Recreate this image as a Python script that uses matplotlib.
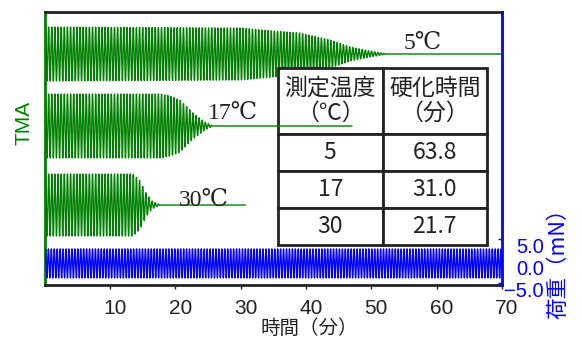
import numpy as np
import matplotlib
matplotlib.use("Agg")
import matplotlib.pyplot as plt
from matplotlib.transforms import ScaledTranslation

plt.rcParams['font.family'] = ['Noto Sans CJK JP', 'DejaVu Sans']

# --- data (envelopes) ---
t5 = [0, 30, 35, 39, 43.7, 46.8, 49.8, 52.5, 70]
a5 = [27, 26, 23, 21, 14, 7, 3, 0, 0]
c5 = 231
t17 = [0, 17.7, 19.2, 20.7, 22.7, 24.5, 25.8, 47]
a17 = [32, 32, 30, 26, 13, 4, 0, 0]
c17 = 159
t30 = [0, 13.5, 14.6, 15.5, 16.4, 17.7, 30.7]
a30 = [31, 31, 24, 12, 4, 0, 0]
c30 = 80
tb = [0, 70]
ab = [3.3, 3.3]
cb = -0.6
period_tma = 0.48
period_load = 0.45

temp_labels = ["5℃", "17℃", "30℃"]
table_text = [["測定温度\n（℃）", "硬化時間\n（分）"],
              ["5", "63.8"], ["17", "31.0"], ["30", "21.7"]]
xticks = [10, 20, 30, 40, 50, 60, 70]
yticks_r = [5.0, 0.0, -5.0]
yticklabels_r = ["5.0", "0.0", "\u22125.0"]

GREEN = '#008000'
BLUE = '#0000ff'
DARK = '#222222'
SANS = ['Liberation Sans', 'DejaVu Sans']

fig = plt.figure(figsize=(5.82, 3.38), dpi=100)
L, R, B, T = 44.7/582, 502/582, 1-285/338, 1-12/338
ax = fig.add_axes([L, B, R-L, T-B])
ax.set_xlim(0, 70)
ax.set_ylim(0, 273)


def trace(tk, ak, center, period, n=30000):
    t = np.linspace(tk[0], tk[-1], n)
    env = np.interp(t, tk, ak)
    return t, center + env*np.sin(2*np.pi*t/period)

x, y = trace(t5, a5, c5, period_tma)
ax.plot(x, y, color=GREEN, lw=1.0, zorder=2)
x, y = trace(t17, a17, c17, period_tma)
ax.plot(x, y, color=GREEN, lw=1.0, zorder=5)
x, y = trace(t30, a30, c30, period_tma)
ax.plot(x, y, color=GREEN, lw=1.0, zorder=2)

serif = ['Liberation Serif', 'DejaVu Serif', 'Noto Sans CJK JP']
ax.text(57.9, 242, temp_labels[0], family=serif, fontsize=17, ha='center', va='center', color=DARK, zorder=6)
ax.text(28.8, 172, temp_labels[1], family=serif, fontsize=17, ha='center', va='center', color=DARK, zorder=6)
ax.text(24.3, 85, temp_labels[2], family=serif, fontsize=17, ha='center', va='center', color=DARK, zorder=6)

# table
tbl = ax.table(cellText=table_text, cellLoc='center',
               bbox=[(278-44.7)/457.3, (285-245)/273, (487-278)/457.3, (245-68)/273])
tbl.auto_set_font_size(False)
tbl.set_fontsize(16.5)
tbl.set_zorder(3)
for (r, c), cell in tbl.get_celld().items():
    cell.set_edgecolor(DARK)
    cell.set_linewidth(2)
    cell.set_facecolor('white')
    cell.set_height(1.78 if r == 0 else 1.0)
    cell.get_text().set_color(DARK)
    if r == 0:
        cell.get_text().set_linespacing(1.1)

# axes styling
ax.set_xticks(xticks)
ax.set_xticklabels([str(v) for v in xticks], family=SANS)
ax.tick_params(axis='x', direction='out', length=3, width=1, pad=7, labelsize=15, colors=DARK)
for lab in ax.get_xticklabels():
    lab.set_transform(lab.get_transform() + ScaledTranslation(0.05, 0, fig.dpi_scale_trans))
ax.set_yticks([])
for s in ['top', 'bottom']:
    ax.spines[s].set_color(DARK)
    ax.spines[s].set_linewidth(2)
ax.spines['left'].set_color(GREEN)
ax.spines['left'].set_linewidth(2)
ax.spines['right'].set_visible(False)

ax2 = ax.twinx()
ax2.set_ylim(-5.5, 56.5)
x, y = trace(tb, ab, cb, period_load)
ax2.plot(x, y, color=BLUE, lw=1.0)
ax2.set_yticks(yticks_r)
ax2.set_yticklabels(yticklabels_r, family=SANS)
ax2.tick_params(axis='y', direction='in', length=3, width=1, pad=30, labelsize=14.5, colors=BLUE)
for lab in ax2.get_yticklabels():
    lab.set_horizontalalignment('right')
    lab.set_transform(lab.get_transform() + ScaledTranslation(0, -0.065, fig.dpi_scale_trans))
for s in ['top', 'bottom', 'left']:
    ax2.spines[s].set_visible(False)
ax2.spines['right'].set_color(BLUE)
ax2.spines['right'].set_linewidth(2)

fig.text(309/582, 1-328/338, '時間（分）', ha='center', va='center', fontsize=14, color=DARK)
fig.text(24/582, 1-123/338, 'TMA', rotation=90, ha='center', va='center', fontsize=15,
         color=GREEN, family=SANS)
fig.text(558/582, 1-258/338, '荷重（mN）', rotation=90, ha='center', va='center', fontsize=15.5, color=BLUE)

fig.savefig('out.png', dpi=100)
